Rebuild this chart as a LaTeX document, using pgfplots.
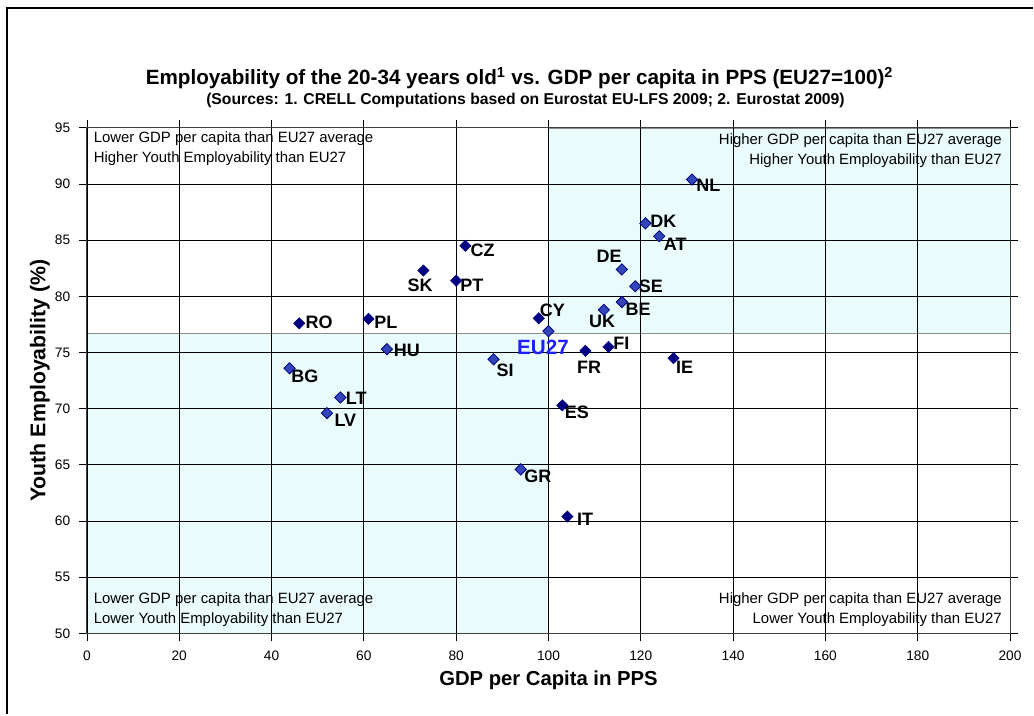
\documentclass[border=0pt]{standalone}
\usepackage{pgfplots}
\pgfplotsset{compat=1.18}
\usepackage{fontspec}
\setmainfont{Liberation Sans}
\definecolor{navy}{rgb}{0.0, 0.0, 0.5}
\definecolor{patblue}{RGB}{50, 70, 185}
\definecolor{shade}{RGB}{234, 251, 251}
\definecolor{eublue}{RGB}{30, 30, 255}

% country label: x, y, shift right (px), shift up (px), text
\newcommand{\lab}[5]{\node[font=\bfseries\fontsize{13.5}{15}\selectfont, inner sep=0pt]
  at (axis cs:#1,#2) [xshift=#3*0.75pt, yshift=#4*0.75pt] {#5};}

\begin{document}
\begin{tikzpicture}
\begin{axis}[
	set layers,
	at={(0pt,0pt)}, anchor=south west,
	scale only axis,
	width=693pt, height=379.5pt,
	xmin=0, xmax=200,
	ymin=50, ymax=95,
	xtick distance=20,
	ytick distance=5,
	grid=major,
	major grid style={black, line width=0.6pt},
	axis line style={black!75, line width=0.8pt},
	tick style={black, line width=0.6pt},
	tick align=outside,
	major tick length=6pt,
	ticklabel style={font=\fontsize{10.3}{12}\selectfont},
	/pgf/number format/assume math mode=true,
	xticklabel style={yshift=-4pt},
	yticklabel style={xshift=-3pt},
	clip=false,
]
% shaded quadrants
\addplot [on layer=axis background, fill=shade, draw=black!45, line width=0.5pt]
	coordinates {(0,50)(100,50)(100,76.7)(0,76.7)} -- cycle;
\addplot [on layer=axis background, fill=shade, draw=black!45, line width=0.5pt]
	coordinates {(100,76.7)(200,76.7)(200,95)(100,95)} -- cycle;

% solid markers
\addplot [only marks, mark=square*, mark size=3pt, mark options={rotate=45, fill=navy, draw=navy}]
coordinates {
	(82.0,84.5) (72.9,82.3) (80.0,81.4) (46.0,77.6) (61.0,78.0) (97.9,78.05)
	(108.0,75.15) (113.0,75.5) (127.1,74.5) (103.0,70.3) (104.1,60.4)
};
% patterned markers
\addplot [only marks, mark=square*, mark size=3pt, mark options={rotate=45, fill=patblue, draw=navy, line width=0.6pt}]
coordinates {
	(131.1,90.4) (121.0,86.5) (124.0,85.35) (115.9,82.4) (118.8,80.9) (115.9,79.5)
	(112.0,78.8) (100.0,76.9) (88.1,74.4) (65.0,75.3) (43.9,73.6) (54.9,71.0)
	(52.0,69.6) (94.0,64.6)
};

\lab{131.1}{90.4}{16.3}{-5.3}{NL}
\lab{121.0}{86.5}{18}{1.6}{DK}
\lab{124.0}{85.35}{16}{-8.3}{AT}
\lab{82.0}{84.5}{17.3}{-4}{CZ}
\lab{72.9}{82.3}{-3.2}{-14.5}{SK}
\lab{80.0}{81.4}{15.8}{-4.8}{PT}
\lab{115.9}{82.4}{-12.7}{13}{DE}
\lab{118.8}{80.9}{15.7}{0}{SE}
\lab{115.9}{79.5}{16.3}{-7.6}{BE}
\lab{112.0}{78.8}{-1.7}{-11.3}{UK}
\lab{97.9}{78.05}{13.5}{8.4}{CY}
\lab{108.0}{75.15}{3.7}{-16}{FR}
\lab{113.0}{75.5}{13}{4}{FI}
\lab{127.1}{74.5}{11}{-9.3}{IE}
\lab{88.1}{74.4}{11.7}{-10.7}{SI}
\lab{103.0}{70.3}{14.6}{-7}{ES}
\lab{46.0}{77.6}{19.9}{1}{RO}
\lab{61.0}{78.0}{17.5}{-3.3}{PL}
\lab{65.0}{75.3}{20}{-1.7}{HU}
\lab{43.9}{73.6}{15.3}{-8.3}{BG}
\lab{54.9}{71.0}{16}{-1.3}{LT}
\lab{52.0}{69.6}{18.5}{-6.7}{LV}
\lab{94.0}{64.6}{17}{-6.7}{GR}
\lab{104.1}{60.4}{17.8}{-2.3}{IT}
\node[font=\bfseries\fontsize{15.5}{17}\selectfont, text=eublue, inner sep=0pt]
	at (axis cs:100,76.9) [xshift=-5.5*0.75pt, yshift=-16*0.75pt] {EU27};

% quadrant notes
\node[font=\fontsize{11.2}{15}\selectfont, align=left, anchor=north west, inner sep=0pt]
	at (rel axis cs:0,1) [xshift=5pt, yshift=-2.5pt]
	{Lower GDP per capita than EU27 average\\Higher Youth Employability than EU27};
\node[font=\fontsize{11.2}{15}\selectfont, align=right, anchor=north east, inner sep=0pt]
	at (rel axis cs:1,1) [xshift=-6pt, yshift=-4pt]
	{Higher GDP per capita than EU27 average\\Higher Youth Employability than EU27};
\node[font=\fontsize{11.2}{15}\selectfont, align=left, anchor=south west, inner sep=0pt]
	at (rel axis cs:0,0) [xshift=5pt, yshift=5pt]
	{Lower GDP per capita than EU27 average\\Lower Youth Employability than EU27};
\node[font=\fontsize{11.2}{15}\selectfont, align=right, anchor=south east, inner sep=0pt]
	at (rel axis cs:1,0) [xshift=-6pt, yshift=5pt]
	{Higher GDP per capita than EU27 average\\Lower Youth Employability than EU27};
\end{axis}

% titles and axis labels
\node[font=\bfseries\fontsize{15.5}{18}\selectfont] at (324.75pt,417pt)
	{Employability of the 20-34 years old\textsuperscript{1} vs. GDP per capita in PPS (EU27=100)\textsuperscript{2}};
\node[font=\bfseries\fontsize{11.8}{14}\selectfont] at (329.25pt,399.75pt)
	{(Sources: 1. CRELL Computations based on Eurostat EU-LFS 2009; 2. Eurostat 2009)};
\node[font=\bfseries\fontsize{16}{18}\selectfont, rotate=90] at (-35.25pt,189.75pt)
	{Youth Employability (\%)};
\node[font=\bfseries\fontsize{15.2}{17}\selectfont] at (346.5pt,-35.25pt)
	{GDP per Capita in PPS};

% outer frame and page size
\draw[line width=1.5pt] (-60pt,-60.75pt) -- (-60pt,469.5pt) -- (710.25pt,469.5pt);
\path[use as bounding box] (-65.25pt,-60.75pt) rectangle (710.25pt,475.5pt);
\end{tikzpicture}
\end{document}
